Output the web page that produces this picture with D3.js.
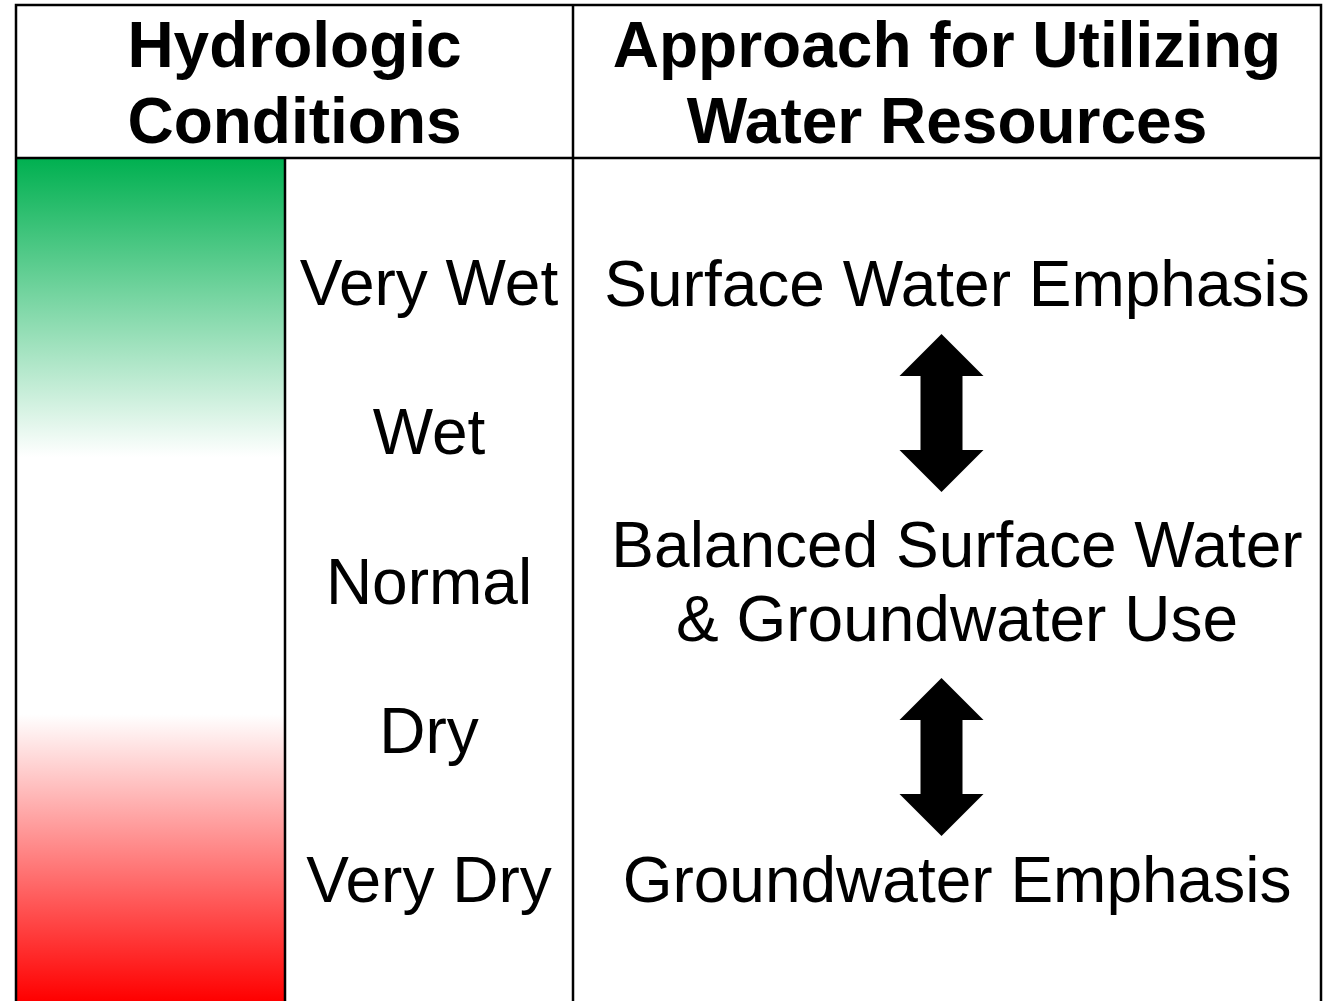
<!DOCTYPE html>
<html>
<head>
<meta charset="utf-8">
<script src="https://cdn.jsdelivr.net/npm/d3@7"></script>
<style>
html,body{margin:0;padding:0;background:#fff;}
svg{display:block;}
text{font-family:"Liberation Sans", Arial, sans-serif;fill:#000;}
</style>
</head>
<body>
<script>
// ---- data ----
const headers = [["Hydrologic", "Conditions"], ["Approach for Utilizing", "Water Resources"]];
const conditions = ["Very Wet", "Wet", "Normal", "Dry", "Very Dry"];
const approaches = [["Surface Water Emphasis"], ["Balanced Surface Water", "& Groundwater Use"], ["Groundwater Emphasis"]];
const gradientOffsets = [0, 0.355, 0.66, 1];
const gradientColors = ["#00b050", "#ffffff", "#ffffff", "#ff0000"];

// ---- layout ----
const W = 1334, H = 1001;
const svg = d3.select("body").append("svg").attr("width", W).attr("height", H);

const xL = 16, xBar = 285, xMid = 573, xR = 1321;
const yT = 5, yHead = 158, yB = 1010;

const defs = svg.append("defs");
const grad = defs.append("linearGradient").attr("id", "hydro")
  .attr("x1", 0).attr("y1", 0).attr("x2", 0).attr("y2", 1);
grad.selectAll("stop").data(gradientOffsets).join("stop")
  .attr("offset", d => d)
  .attr("stop-color", (d, i) => gradientColors[i]);

// gradient bar (from header line to bottom of picture)
svg.append("rect").attr("x", xL).attr("y", yHead)
  .attr("width", xBar - xL).attr("height", 1001 - yHead)
  .attr("fill", "url(#hydro)");

// grid lines
const lineW = 2.5;
const g = svg.append("g").attr("stroke", "#000").attr("stroke-width", lineW).attr("fill", "none");
g.append("rect").attr("x", xL).attr("y", yT).attr("width", xR - xL).attr("height", yB - yT);
g.append("line").attr("x1", xL).attr("x2", xR).attr("y1", yHead).attr("y2", yHead);
g.append("line").attr("x1", xMid).attr("x2", xMid).attr("y1", yT).attr("y2", yB);
g.append("line").attr("x1", xBar).attr("x2", xBar).attr("y1", yHead).attr("y2", yB);

// headers
const headX = [(xL + xMid) / 2, (xMid + xR) / 2];
const headY = d3.scalePoint().domain([0, 1]).range([67, 143]);
headers.forEach((lines, i) => {
  svg.append("text").attr("text-anchor", "middle")
    .attr("font-size", 64).attr("font-weight", "bold")
    .selectAll("tspan").data(lines).join("tspan")
    .attr("x", headX[i]).attr("y", (d, j) => headY(j))
    .text(d => d);
});

// condition labels
const yCond = d3.scalePoint().domain(conditions).range([305, 902]);
svg.append("g").selectAll("text").data(conditions).join("text")
  .attr("x", (xBar + xMid) / 2)
  .attr("y", d => yCond(d))
  .attr("text-anchor", "middle").attr("font-size", 64)
  .text(d => d);

// approach labels
const approachY = [306, 567, 902];
const lineGap = 74;
const xApp = 957;
approaches.forEach((lines, i) => {
  svg.append("text").attr("text-anchor", "middle").attr("font-size", 64)
    .selectAll("tspan").data(lines).join("tspan")
    .attr("x", xApp).attr("y", (d, j) => approachY[i] + j * lineGap)
    .text(d => d);
});

// double arrows
const arrowTops = [334, 678];
const arrowLen = 158, headH = 42, headHalf = 42, shaftHalf = 21;
const xArrow = 941.5;
arrowTops.forEach(t => {
  const b = t + arrowLen;
  const pts = [
    [xArrow, t], [xArrow + headHalf, t + headH], [xArrow + shaftHalf, t + headH],
    [xArrow + shaftHalf, b - headH], [xArrow + headHalf, b - headH], [xArrow, b],
    [xArrow - headHalf, b - headH], [xArrow - shaftHalf, b - headH],
    [xArrow - shaftHalf, t + headH], [xArrow - headHalf, t + headH]
  ];
  svg.append("path").attr("d", d3.line()(pts) + "Z").attr("fill", "#000");
});
</script>
</body>
</html>
